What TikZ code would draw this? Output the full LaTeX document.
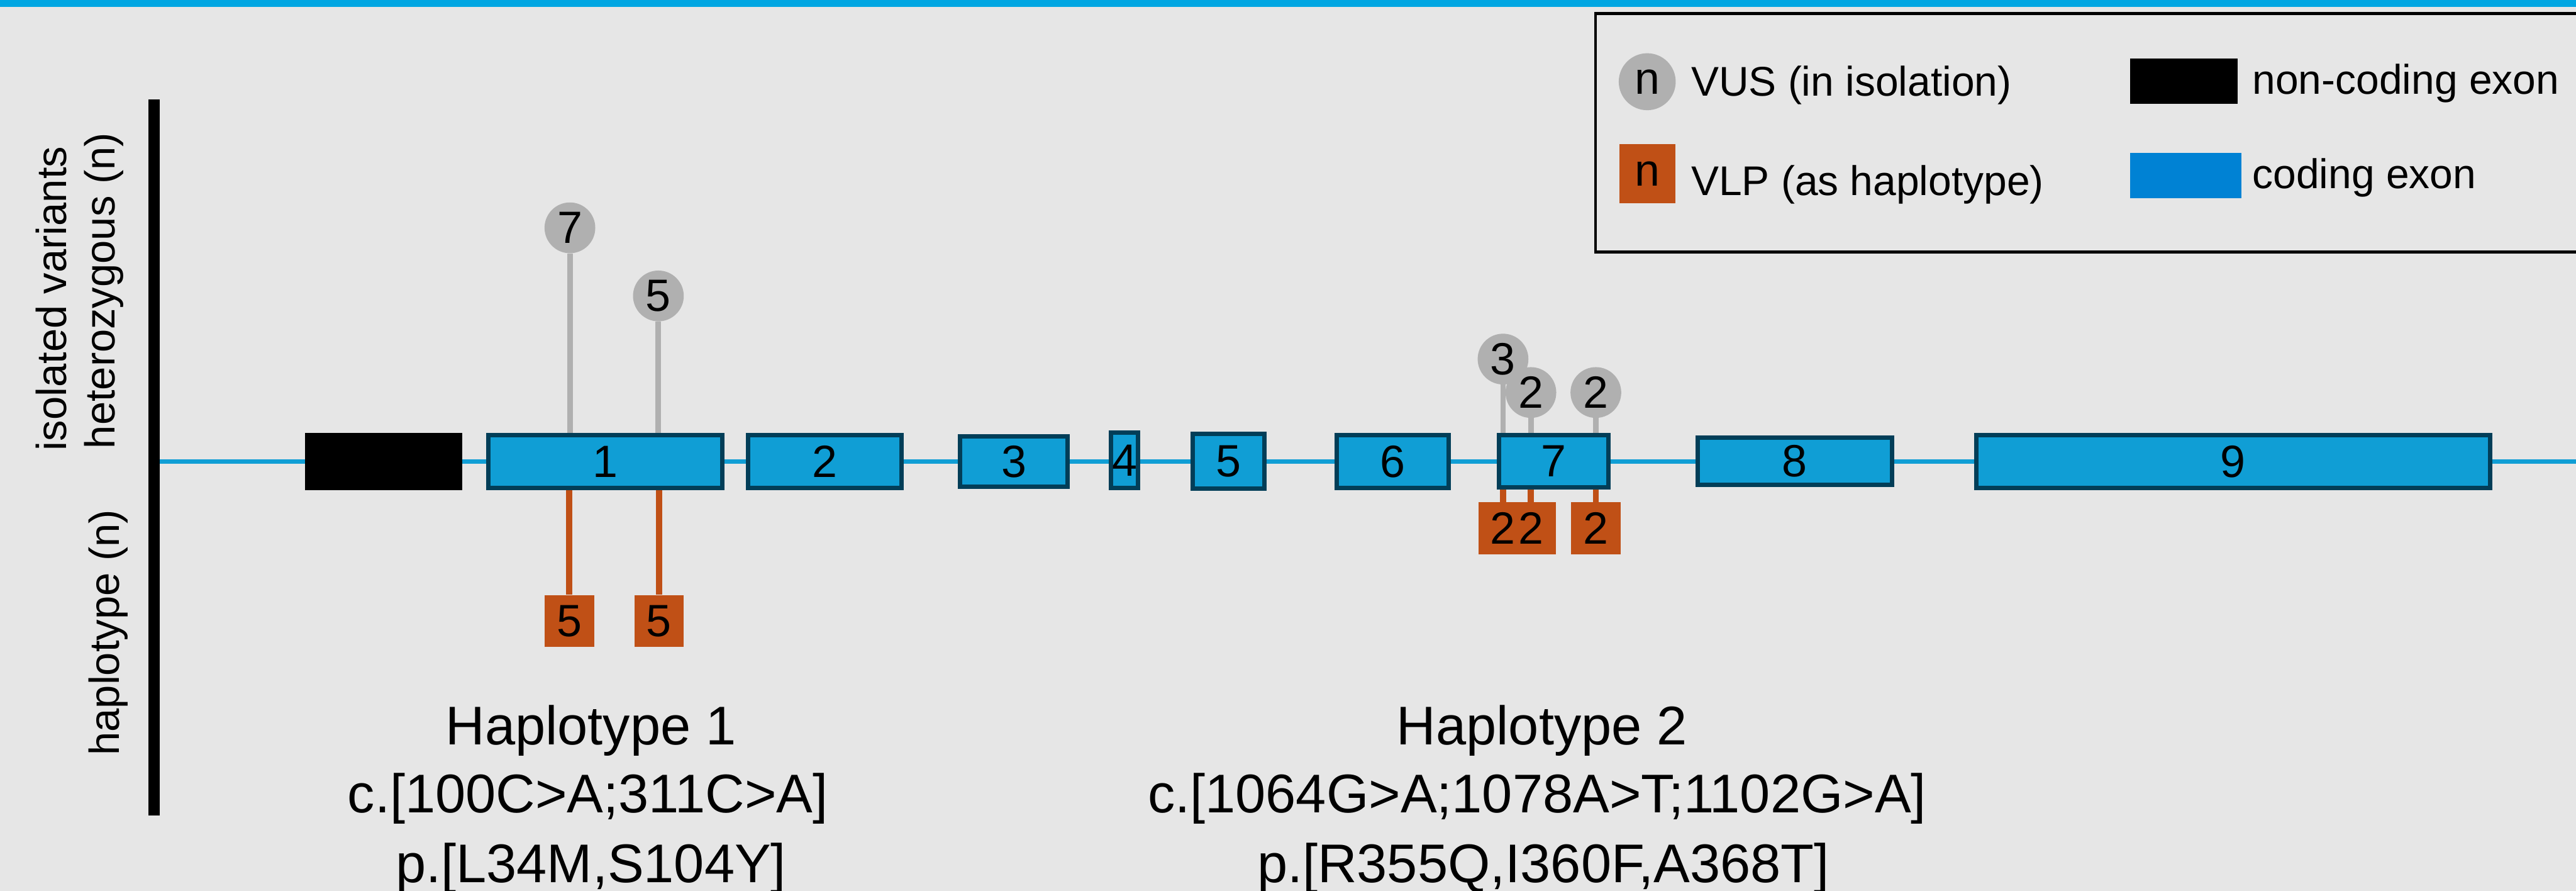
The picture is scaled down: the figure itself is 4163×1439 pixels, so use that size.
\documentclass[tikz,border=0pt]{standalone}
\usepackage{fontspec}
\setmainfont{Liberation Sans}
\definecolor{bgc}{RGB}{230,230,230}
\definecolor{topblue}{RGB}{0,166,226}
\definecolor{exonfill}{RGB}{16,158,213}
\definecolor{exonborder}{RGB}{2,62,88}
\definecolor{vusgray}{RGB}{176,176,176}
\definecolor{vlporange}{RGB}{192,80,22}
\definecolor{legblue}{RGB}{0,130,212}
\newcommand{\numfont}{\fontsize{73}{80}\selectfont}
\newcommand{\legfont}{\fontsize{67}{80}\selectfont}
\newcommand{\axfont}{\fontsize{68}{80}\selectfont}
\newcommand{\hapfont}{\fontsize{88}{110}\selectfont}
\begin{document}
\begin{tikzpicture}[x=1pt,y=-1pt,
  exon/.style={rectangle,draw=exonborder,line width=7pt,fill=exonfill,inner sep=0pt,font=\numfont},
  vus/.style={circle,fill=vusgray,inner sep=0pt,minimum size=82pt},
  vlp/.style={rectangle,fill=vlporange,inner sep=0pt,minimum width=80pt,minimum height=84pt},
  num/.style={inner sep=0pt,font=\numfont},
  vusstick/.style={draw=vusgray,line width=9pt},
  vlpstick/.style={draw=vlporange,line width=10pt},
  geneline/.style={draw=exonfill,line width=7pt},
  legtext/.style={inner sep=0pt,font=\legfont,anchor=base west},
  axislabel/.style={inner sep=0pt,font=\axfont,rotate=90},
  haptext/.style={inner sep=0pt,font=\hapfont,anchor=base}]
\path[use as bounding box,fill=bgc] (0,0) rectangle (4163,1439);
\clip (0,0) rectangle (4163,1439);
\fill[topblue] (0,0) rectangle (4163,11);

% axis bar and labels
\node[rectangle,fill=black,inner sep=0pt,minimum width=18pt,minimum height=1156pt] (axis) at (249,739) {};
\node[axislabel,anchor=base west] (lab1) at (107,728) {isolated variants};
\node[axislabel,anchor=base west] (lab2) at (185,725) {heterozygous (n)};
\node[axislabel,anchor=base east] (lab3) at (193,823) {haplotype (n)};

% gene line
\coordinate (lineEnd) at (4163,745.5);
\draw[geneline] (axis.east |- lineEnd) -- (lineEnd);

% exons
\node[rectangle,fill=black,inner sep=0pt,minimum width=254pt,minimum height=93pt] (e0) at (620,745.5) {};
\node[exon,minimum width=378pt,minimum height=86pt] (e1) at (978.5,745.5) {1};
\node[exon,minimum width=248pt,minimum height=86pt] (e2) at (1332.5,745.5) {2};
\node[exon,minimum width=174pt,minimum height=82pt] (e3) at (1638.5,745.5) {3};
\node[exon,minimum width=44pt,minimum height=90pt] (e4) at (1817.5,743.5) {\makebox[0pt]{4}};
\node[exon,minimum width=116pt,minimum height=89pt] (e5) at (1985.5,745) {5};
\node[exon,minimum width=181pt,minimum height=86pt] (e6) at (2251,745.5) {6};
\node[exon,minimum width=177pt,minimum height=85pt] (e7) at (2511,745) {7};
\node[exon,minimum width=314pt,minimum height=77pt] (e8) at (2900.5,745) {8};
\node[exon,minimum width=831pt,minimum height=86pt] (e9) at (3609,745.5) {9};

% VUS circles
\node[vus] (v1) at (921,368) {};
\node[vus] (v2) at (1064,478) {};
\node[vus] (v3) at (2429,580) {};
\node[vus] (v4) at (2474,634) {};
\node[vus] (v5) at (2579,634) {};

% VLP squares
\node[vlp] (h1) at (920,1003) {};
\node[vlp] (h2) at (1065,1003) {};
\node[vlp] (h3) at (2429,853.5) {};
\node[vlp] (h4) at (2474,853.5) {};
\node[vlp] (h5) at (2579,853.5) {};

% sticks
\draw[vusstick] (v1.south) -- (v1.south |- e1.north);
\draw[vusstick] (v2.south) -- (v2.south |- e1.north);
\draw[vusstick] (v3.south) -- (v3.south |- e7.north);
\draw[vusstick] (v4.south) -- (v4.south |- e7.north);
\draw[vusstick] (v5.south) -- (v5.south |- e7.north);
\draw[vlpstick] (e1.south -| h1.north) -- (h1.north);
\draw[vlpstick] (e1.south -| h2.north) -- (h2.north);
\draw[vlpstick] (e7.south -| h3.north) -- (h3.north);
\draw[vlpstick] (e7.south -| h4.north) -- (h4.north);
\draw[vlpstick] (e7.south -| h5.north) -- (h5.north);

% counts
\node[num] at (v1) {7};
\node[num] at (v2) {5};
\node[num] at (v3) {3};
\node[num] at (v4) {2};
\node[num] at (v5) {2};
\node[num] at (h1) {5};
\node[num] at (h2) {5};
\node[num] at (h3) {2};
\node[num] at (h4) {2};
\node[num] at (h5) {2};

% haplotype texts
\node[haptext] (hap1a) at (955,1203) {Haplotype 1};
\node[haptext] (hap1b) at (950,1313) {c.[100C>A;311C>A]};
\node[haptext] (hap1c) at (955,1425) {p.[L34M,S104Y]};
\node[haptext] (hap2a) at (2492,1203) {Haplotype 2};
\node[haptext] (hap2b) at (2484,1313) {c.[1064G>A;1078A>T;1102G>A]};
\node[haptext] (hap2c) at (2494,1425) {p.[R355Q,I360F,A368T]};

% legend
\node[rectangle,draw=black,line width=5pt,inner sep=0pt,minimum width=1619pt,minimum height=386pt] (legend) at (3388,214.5) {};
\node[circle,fill=vusgray,inner sep=0pt,minimum size=92pt,font=\numfont] (lv) at (2662,132) {n};
\node[legtext] (lvt) at (2733,155) {VUS (in isolation)};
\node[rectangle,fill=vlporange,inner sep=0pt,minimum width=91pt,minimum height=95pt,font=\numfont] (lh) at (2662.5,280.5) {n};
\node[legtext] (lht) at (2733,316) {VLP (as haplotype)};
\node[rectangle,fill=black,inner sep=0pt,minimum width=174pt,minimum height=73pt] (lnc) at (3529,131.5) {};
\node[legtext] (lnct) at (3640,152) {non-coding exon};
\node[rectangle,fill=legblue,inner sep=0pt,minimum width=180pt,minimum height=73pt] (lc) at (3532,283.5) {};
\node[legtext] (lct) at (3640,304) {coding exon};
\end{tikzpicture}
\end{document}
